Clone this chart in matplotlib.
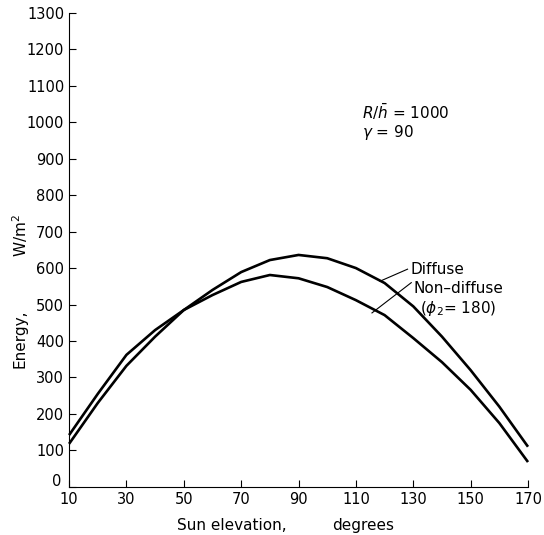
import matplotlib.pyplot as plt
import matplotlib.transforms as mtransforms

# Data
elevation = [10, 20, 30, 40, 50, 60, 70, 80, 90, 100, 110, 120, 130, 140, 150, 160, 170]
diffuse = [118, 230, 332, 412, 485, 540, 589, 622, 636, 627, 600, 559, 495, 412, 320, 220, 110]
non_diffuse = [142, 255, 362, 430, 485, 526, 562, 581, 572, 548, 512, 471, 408, 342, 266, 175, 68]

x_ticks = [10, 30, 50, 70, 90, 110, 130, 150, 170]
y_ticks = list(range(0, 1301, 100))

plt.rcParams['font.family'] = 'DejaVu Sans'

fig = plt.figure(figsize=(5.44, 5.35), dpi=100)
ax = fig.add_axes([0.127, 0.09, 0.8436, 0.886])

for series in (diffuse, non_diffuse):
    ax.plot(elevation, series, color='black', lw=1.9,
            solid_joinstyle='round', solid_capstyle='butt', clip_on=False)

ax.set_xlim(10, 170)
ax.set_ylim(0, 1300)
ax.set_xticks(x_ticks)
ax.set_yticks(y_ticks)
ax.tick_params(direction='in', length=5, width=0.8, labelsize=10.5)
ax.spines['top'].set_visible(False)
ax.spines['right'].set_visible(False)

# the "0" sits up and left of the "10" in the original
zero = ax.get_yticklabels()[0]
zero.set_transform(zero.get_transform() + mtransforms.ScaledTranslation(-2 / 72, 5 / 72, fig.dpi_scale_trans))

# axis titles, split like the original
fig.text(177 / 544, 1 - 530 / 535, 'Sun elevation,', fontsize=11, va='baseline', ha='left')
fig.text(332 / 544, 1 - 530 / 535, 'degrees', fontsize=11, va='baseline', ha='left')
fig.text(20 / 544, 1 - 339 / 535, 'Energy,', fontsize=11, va='center', ha='center', rotation=90)
fig.text(20 / 544, 1 - 236 / 535, 'W/m$^2$', fontsize=11, va='center', ha='center', rotation=90)

# Parameter note
ax.text(112, 1000, '$R/\\bar{h}$ = 1000\n$\\gamma$ = 90', fontsize=11, va='center', linespacing=1.1)

# Curve labels with leader lines
ax.text(129, 597, 'Diffuse', fontsize=11, va='center')
ax.plot([128, 118.4], [597, 564], color='black', lw=0.8)
ax.text(130, 545, 'Non\u2013diffuse', fontsize=11, va='center')
ax.plot([129.3, 115.6], [560, 477], color='black', lw=0.8)
ax.text(132.5, 490, '($\\phi_2$= 180)', fontsize=11, va='center')

plt.savefig('out.png', dpi=100)
